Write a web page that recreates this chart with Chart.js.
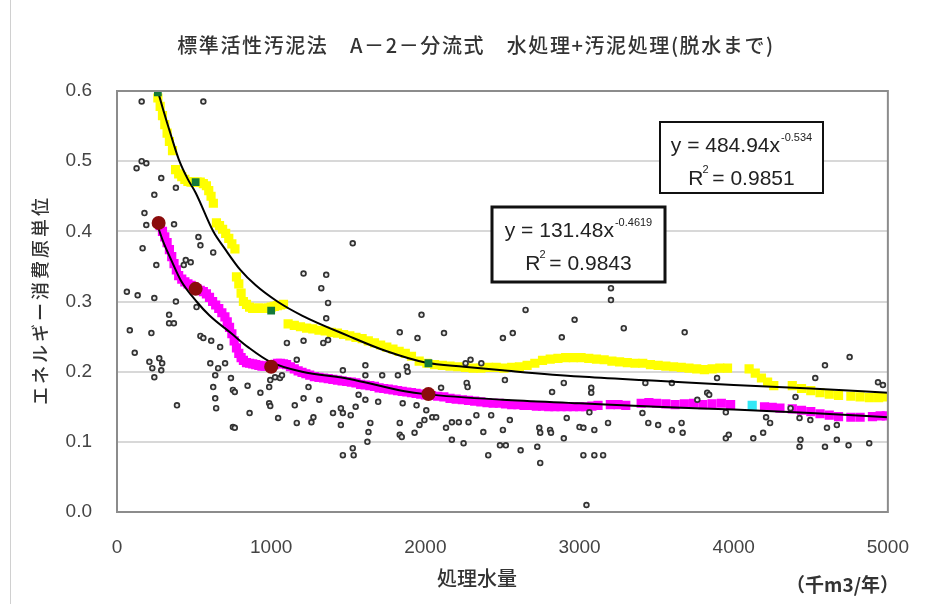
<!DOCTYPE html>
<html>
<head>
  <meta charset="utf-8">
  <title>標準活性汚泥法 A-2-分流式</title>
  <style>
    html, body { margin: 0; padding: 0; background: #fff; }
    #wrap { width: 933px; height: 604px; }
  </style>
  <script src="https://cdn.jsdelivr.net/npm/chart.js"></script>
</head>
<body>
  <div id="wrap"><canvas id="chart" width="933" height="604"></canvas></div>

  <script>
    // 個別データ（処理水量 千m3/年, エネルギー消費原単位）
    const scatterX = [160, 560, 127, 160, 190, 287, 382, 242, 178, 190, 370, 166, 528, 541, 624, 255, 446, 478, 433,
      1210, 1357, 1325, 1529, 1369, 1357, 64, 134, 242, 382, 516, 338, 338, 369, 83, 223, 115, 210, 274, 293, 229,
      287, 242, 389, 541, 611, 669, 560, 605, 637, 656, 701, 624, 739, 637, 643, 752, 764, 752, 764, 847, 860, 930,
      994, 1025, 1057, 1070, 987, 987, 994, 1045, 1102, 1210, 1166, 1153, 1242, 1210, 1166, 1274, 1261, 1312, 1338,
      1369, 1401, 1452, 1465, 1452, 1516, 1548, 1465, 1529, 1535, 1465, 1611, 1611, 1567, 1611, 1643, 1631, 1624,
      1720, 1822, 1834, 1834, 1834, 1694, 1975, 2121, 2650, 2968, 3204, 3204, 3287, 2567, 2885, 2503, 1949, 1879,
      1885, 2261, 2363, 2268, 2274, 2516, 2822, 2898, 3076, 3076, 2102, 2293, 1853, 1943, 2006, 1847, 1930, 1962,
      1994, 2045, 2070, 2134, 2172, 2217, 2280, 2331, 2427, 2172, 2248, 2376, 2503, 2408, 2484, 2522, 2548, 2618,
      2739, 2745, 2809, 2815, 2726, 2745, 2917, 2898, 3000, 3025, 3096, 3185, 3025, 3096, 3153, 3045, 3064, 3408,
      3446, 3682, 4752, 4592, 4529, 3892, 4936, 4968, 4401, 3427, 3599, 3828, 3841, 3764, 3949, 3510, 3599, 3662,
      3669, 3949, 3968, 4127, 4191, 4210, 4236, 4427, 4497, 4605, 4669, 4433, 4427, 4592, 4669, 4745, 4879, 4369];
    const scatterY = [0.585, 0.585, 0.490, 0.500, 0.497, 0.476, 0.462, 0.452, 0.426, 0.409, 0.410, 0.376, 0.392, 0.380, 0.370, 0.352, 0.359, 0.356, 0.352,
      0.340, 0.338, 0.319, 0.383, 0.298, 0.276, 0.314, 0.309, 0.305, 0.300, 0.292, 0.281, 0.269, 0.269, 0.259, 0.255, 0.227, 0.214, 0.219, 0.212, 0.205,
      0.202, 0.192, 0.152, 0.251, 0.244, 0.235, 0.248, 0.212, 0.195, 0.205, 0.212, 0.178, 0.191, 0.162, 0.148, 0.174, 0.171, 0.121, 0.120, 0.180, 0.141, 0.170,
      0.188, 0.192, 0.191, 0.195, 0.178, 0.155, 0.151, 0.134, 0.241, 0.244, 0.217, 0.152, 0.178, 0.162, 0.127, 0.135, 0.128, 0.160, 0.241,
      0.245, 0.141, 0.148, 0.141, 0.124, 0.138, 0.150, 0.081, 0.091, 0.081, 0.202, 0.209, 0.195, 0.167, 0.160, 0.127, 0.114, 0.100,
      0.195, 0.195, 0.256, 0.127, 0.110, 0.157, 0.281, 0.255, 0.288, 0.274, 0.319, 0.302, 0.262, 0.255, 0.249, 0.248, 0.248, 0.207,
      0.200, 0.212, 0.212, 0.184, 0.178, 0.188, 0.171, 0.184, 0.177, 0.170, 0.177, 0.217, 0.155, 0.152, 0.145, 0.107, 0.113, 0.124,
      0.131, 0.135, 0.135, 0.120, 0.128, 0.128, 0.128, 0.138, 0.138, 0.103, 0.098, 0.114, 0.117, 0.081, 0.095, 0.095, 0.131, 0.088,
      0.120, 0.113, 0.117, 0.113, 0.093, 0.070, 0.134, 0.105, 0.121, 0.120, 0.117, 0.127, 0.081, 0.081, 0.081, 0.010, 0.142, 0.141,
      0.127, 0.256, 0.221, 0.209, 0.191, 0.191, 0.185, 0.181, 0.164, 0.184, 0.184, 0.170, 0.167, 0.160, 0.142, 0.124, 0.117, 0.127,
      0.113, 0.105, 0.110, 0.105, 0.113, 0.135, 0.127, 0.134, 0.131, 0.120, 0.124, 0.103, 0.093, 0.093, 0.103, 0.095, 0.098, 0.148];

    // 黄色の系列
    const yellowX = [265, 280, 295, 310, 325, 340, 360, 380, 400, 420, 440, 460, 480, 500, 520, 540, 560, 580, 595, 610, 625,
      645, 665, 685, 705, 725, 745, 765, 775, 790, 805, 820, 840, 860, 880, 900, 920, 940, 960, 980, 1000, 1020, 1040, 1060, 1080,
      1110, 1150, 1190, 1230, 1270, 1310, 1350, 1390, 1430, 1470, 1510, 1550, 1590, 1630, 1670, 1710, 1750, 1790, 1830, 1870,
      1910, 1960, 2010, 2060, 2110, 2160, 2210, 2260, 2310, 2360, 2410, 2460, 2510, 2560, 2610, 2660, 2710,
      2760, 2810, 2860, 2910, 2960, 3010, 3060, 3110, 3160, 3210, 3260, 3310, 3360, 3410,
      3460, 3510, 3560, 3610, 3660, 3710, 3760, 3810, 3860, 3910, 3960,
      4100, 4140, 4180, 4220, 4260, 4380, 4440, 4500, 4560, 4620, 4680, 4760, 4820, 4880, 4940, 4990];
    const yellowY = [0.590, 0.578, 0.565, 0.552, 0.540, 0.528, 0.515, 0.488, 0.482, 0.478, 0.474, 0.471, 0.470, 0.470, 0.470, 0.470, 0.468, 0.465, 0.458, 0.450, 0.440,
      0.412, 0.408, 0.403, 0.397, 0.390, 0.382, 0.375, 0.335, 0.325, 0.312, 0.300, 0.296, 0.292, 0.290, 0.290, 0.291, 0.290, 0.290, 0.291, 0.292, 0.293, 0.294, 0.295, 0.296,
      0.268, 0.266, 0.264, 0.262, 0.261, 0.259, 0.258, 0.256, 0.255, 0.253, 0.251, 0.249, 0.247, 0.244, 0.241, 0.238, 0.235, 0.232, 0.229, 0.226,
      0.222, 0.215, 0.212, 0.210, 0.209, 0.208, 0.207, 0.206, 0.205, 0.205, 0.206, 0.206, 0.205, 0.206, 0.207, 0.209, 0.212,
      0.216, 0.218, 0.219, 0.220, 0.220, 0.220, 0.219, 0.218, 0.217, 0.215, 0.214, 0.213, 0.212, 0.212,
      0.210, 0.209, 0.208, 0.207, 0.206, 0.205, 0.204, 0.203, 0.204, 0.205, 0.205,
      0.204, 0.198, 0.191, 0.185, 0.180, 0.180, 0.176, 0.173, 0.170, 0.168, 0.166, 0.165, 0.164, 0.163, 0.163, 0.164];

    // マゼンタの系列
    const magentaX = [280, 295, 310, 325, 340, 355, 370, 385, 400, 420, 440, 460, 480, 500, 520, 540, 560, 580, 600, 620, 640,
      660, 680, 700, 715, 730, 745, 760, 775, 790, 805, 820, 840, 860, 880, 900, 920, 940, 960, 980, 1000, 1020, 1040, 1060,
      1080, 1100, 1125, 1150, 1175, 1200, 1225, 1250, 1280, 1310, 1340, 1370, 1400, 1430, 1460, 1490, 1520, 1550, 1580,
      1610, 1640, 1670, 1700, 1730, 1760, 1790, 1820, 1850, 1880, 1910, 1940, 1970, 2000, 2040, 2080, 2120, 2160, 2200,
      2240, 2280, 2320, 2360, 2400, 2440, 2480, 2520, 2560, 2600, 2640, 2680, 2720, 2760, 2800, 2840, 2880, 2920, 2960,
      3000, 3040, 3080, 3120, 3200, 3250, 3300, 3400, 3450, 3500, 3560, 3620, 3680, 3740, 3800, 3860, 3920, 3980,
      4200, 4250, 4300, 4380, 4440, 4500, 4560, 4620, 4680, 4760, 4820, 4900, 4950, 4990];
    const magentaY = [0.408, 0.400, 0.392, 0.384, 0.374, 0.364, 0.354, 0.345, 0.337, 0.332, 0.328, 0.325, 0.323, 0.320, 0.318, 0.316, 0.314, 0.311, 0.306, 0.300, 0.295,
      0.290, 0.284, 0.278, 0.271, 0.263, 0.254, 0.244, 0.234, 0.226, 0.220, 0.216, 0.213, 0.212, 0.211, 0.210, 0.209, 0.208, 0.208, 0.208, 0.208, 0.210, 0.212, 0.212,
      0.211, 0.210, 0.207, 0.204, 0.201, 0.199, 0.197, 0.195, 0.193, 0.192, 0.191, 0.190, 0.189, 0.188, 0.187, 0.186, 0.185, 0.184, 0.182,
      0.181, 0.180, 0.179, 0.177, 0.176, 0.175, 0.174, 0.173, 0.172, 0.171, 0.170, 0.169, 0.168, 0.167, 0.166, 0.165, 0.164, 0.162, 0.161,
      0.160, 0.159, 0.158, 0.157, 0.156, 0.155, 0.155, 0.154, 0.153, 0.153, 0.152, 0.152, 0.151, 0.151, 0.150, 0.150, 0.150, 0.150, 0.150,
      0.150, 0.150, 0.151, 0.152, 0.153, 0.153, 0.152, 0.155, 0.156, 0.155, 0.154, 0.153, 0.154, 0.155, 0.153, 0.154, 0.155, 0.153,
      0.150, 0.149, 0.148, 0.147, 0.145, 0.143, 0.140, 0.138, 0.136, 0.135, 0.135, 0.136, 0.137, 0.137];

    // 代表点
    const greenX = [265, 510, 1000, 2020];
    const greenY = [0.598, 0.470, 0.287, 0.212];
    const redX = [270, 510, 1000, 2020];
    const redY = [0.412, 0.318, 0.207, 0.168];
    const cyanX = [4120];
    const cyanY = [0.152];

    // 近似曲線
    const trendAX = [265, 300, 350, 400, 460, 510, 624, 700, 800, 900, 1040, 1200, 1500, 1750, 2000, 2250, 2500, 3000, 3500, 4000, 4500, 5000];
    const trendAY = [0.600, 0.573, 0.537, 0.503, 0.474, 0.455, 0.400, 0.375, 0.345, 0.323, 0.300, 0.280, 0.251, 0.229, 0.213, 0.207, 0.202, 0.193, 0.187, 0.181, 0.176, 0.170];
    const trendBX = [260, 300, 350, 414, 516, 600, 739, 850, 994, 1200, 1500, 1866, 2000, 2500, 3000, 3500, 4000, 4500, 5000];
    const trendBY = [0.410, 0.385, 0.360, 0.330, 0.300, 0.280, 0.255, 0.235, 0.214, 0.200, 0.190, 0.172, 0.168, 0.160, 0.155, 0.150, 0.146, 0.141, 0.135];

    const xTicks = [0, 1000, 2000, 3000, 4000, 5000];
    const yTicks = [0.0, 0.1, 0.2, 0.3, 0.4, 0.5, 0.6];

    const titleText = '標準活性汚泥法　A－2－分流式　水処理+汚泥処理(脱水まで)';
    const yTitle = 'エネルギー消費原単位';
    const xTitle = '処理水量';
    const unitText = '（千m3/年）';
    const eqA = ['y = 484.94x', '-0.534', '0.9851'];
    const eqB = ['y = 131.48x', '-0.4619', '0.9843'];

    function pts(xs, ys) {
      return xs.map((x, i) => ({ x: x, y: ys[i] }));
    }

    const jp = '"Noto Sans CJK JP", sans-serif';
    const num = '"Liberation Sans", Arial, sans-serif';

    function drawEq(ctx, box, eq, lw) {
      ctx.save();
      ctx.fillStyle = '#fff';
      ctx.fillRect(box.x, box.y, box.w, box.h);
      ctx.lineWidth = lw;
      ctx.strokeStyle = '#111';
      ctx.strokeRect(box.x, box.y, box.w, box.h);
      ctx.fillStyle = '#222';
      ctx.textBaseline = 'alphabetic';
      ctx.textAlign = 'left';
      ctx.font = '21px ' + num;
      const w1 = ctx.measureText(eq[0]).width;
      ctx.font = '11px ' + num;
      const ws = ctx.measureText(eq[1]).width;
      const x1 = box.x + box.w / 2 - (w1 + ws + 1) / 2;
      ctx.fillText(eq[1], x1 + w1 + 1, box.y + 19);
      ctx.font = '21px ' + num;
      ctx.fillText(eq[0], x1, box.y + 30);
      const r2 = ' = ' + eq[2];
      const wr = ctx.measureText('R').width;
      const w2 = ctx.measureText(r2).width + wr + 3;
      const x2 = box.x + box.w / 2 - w2 / 2;
      ctx.fillText('R', x2, box.y + 63);
      ctx.fillText(r2, x2 + wr + 3, box.y + 63);
      ctx.font = '11px ' + num;
      ctx.fillText('2', x2 + wr - 1, box.y + 51);
      ctx.restore();
    }

    const decor = {
      id: 'decor',
      afterDraw(chart) {
        const ctx = chart.ctx;
        const a = chart.chartArea;
        ctx.save();
        // outer frame line
        ctx.strokeStyle = '#d0d0d0';
        ctx.lineWidth = 1;
        ctx.beginPath();
        ctx.moveTo(10.5, 0);
        ctx.lineTo(10.5, 604);
        ctx.stroke();
        // plot frame
        ctx.strokeStyle = '#8c8c8c';
        ctx.lineWidth = 2;
        ctx.strokeRect(a.left, a.top, a.right - a.left, a.bottom - a.top);
        // title
        ctx.fillStyle = '#333';
        ctx.textAlign = 'center';
        ctx.textBaseline = 'middle';
        ctx.font = '500 20px ' + jp;
        ctx.letterSpacing = '1.6px';
        ctx.fillText(titleText, 476, 45);
        ctx.letterSpacing = '0px';
        // x title and unit
        ctx.font = '500 20px ' + jp;
        ctx.fillText(xTitle, 477, 578);
        ctx.font = 'bold 19px ' + jp;
        ctx.textAlign = 'right';
        ctx.fillText(unitText, 899, 585);
        // y title
        ctx.save();
        ctx.translate(40, 300);
        ctx.rotate(-Math.PI / 2);
        ctx.textAlign = 'center';
        ctx.font = '500 18px ' + jp;
        ctx.letterSpacing = '3px';
        ctx.fillText(yTitle, 0, 0);
        ctx.restore();
        ctx.restore();
        drawEq(ctx, { x: 660, y: 122, w: 163, h: 71 }, eqA, 2);
        drawEq(ctx, { x: 492, y: 207, w: 173, h: 75 }, eqB, 3);
      }
    };

    new Chart(document.getElementById('chart'), {
      type: 'scatter',
      data: {
        datasets: [
          {
            data: pts(trendAX, trendAY), showLine: true, borderColor: '#000', borderWidth: 2,
            pointRadius: 0, cubicInterpolationMode: 'monotone', order: 2
          },
          {
            data: pts(trendBX, trendBY), showLine: true, borderColor: '#000', borderWidth: 2,
            pointRadius: 0, cubicInterpolationMode: 'monotone', order: 2
          },
          {
            data: pts(scatterX, scatterY), pointStyle: 'circle', pointRadius: 2.4,
            borderColor: '#333', borderWidth: 1.7, backgroundColor: '#e8e8e8', order: 3
          },
          {
            data: pts(yellowX, yellowY), pointStyle: 'rect', pointRadius: 6.5,
            backgroundColor: '#ffff00', borderWidth: 0, order: 4
          },
          {
            data: pts(magentaX, magentaY), pointStyle: 'rect', pointRadius: 6.5,
            backgroundColor: '#ff00ff', borderWidth: 0, order: 4
          },
          {
            data: pts(cyanX, cyanY), pointStyle: 'rect', pointRadius: 6.5,
            backgroundColor: '#33e8f5', borderWidth: 0, order: 4
          },
          {
            data: pts(greenX, greenY), pointStyle: 'rect', pointRadius: 5.5,
            backgroundColor: '#13793a', borderWidth: 0, order: 1
          },
          {
            data: pts(redX, redY), pointStyle: 'circle', pointRadius: 7,
            backgroundColor: '#8b0c0c', borderWidth: 0, order: 1
          }
        ]
      },
      options: {
        responsive: false,
        animation: false,
        events: [],
        layout: { padding: { left: 10, right: 31, top: 91, bottom: 0 } },
        plugins: { legend: { display: false }, tooltip: { enabled: false }, title: { display: false } },
        scales: {
          x: {
            type: 'linear', min: 0, max: 5000,
            afterBuildTicks: (s) => { s.ticks = xTicks.map(v => ({ value: v })); },
            afterFit: (s) => { s.height = 92; },
            grid: { display: false, drawTicks: false },
            border: { display: false },
            ticks: { padding: 24, color: '#444', font: { family: num, size: 19 }, maxRotation: 0, callback: (v) => String(v) }
          },
          y: {
            type: 'linear', min: 0, max: 0.6,
            afterBuildTicks: (s) => { s.ticks = yTicks.map(v => ({ value: v })); },
            afterFit: (s) => { s.width = 107; },
            grid: { color: '#d8d8d8', lineWidth: 2, drawTicks: false },
            border: { display: false },
            ticks: { padding: 25, color: '#444', font: { family: num, size: 19 }, callback: (v) => v.toFixed(1) }
          }
        }
      },
      plugins: [decor]
    });
  </script>
</body>
</html>
